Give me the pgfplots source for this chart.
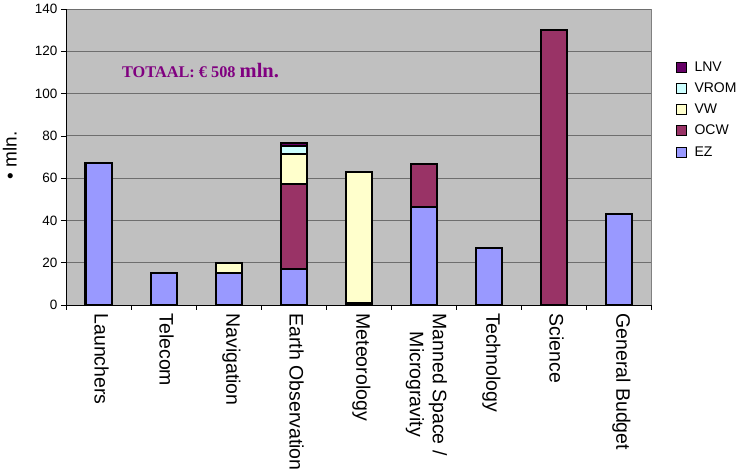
\documentclass[border=0pt]{standalone}
\usepackage{fontspec}
\setmainfont{Liberation Sans}
\newfontfamily\serifbf{Liberation Serif}
\usepackage{pgfplots}
\pgfplotsset{compat=1.18}

\definecolor{ez}{HTML}{9999FF}
\definecolor{ocw}{HTML}{993366}
\definecolor{vw}{HTML}{FFFFCC}
\definecolor{vrom}{HTML}{CCFFFF}
\definecolor{lnv}{HTML}{660066}
\definecolor{bggrey}{HTML}{C0C0C0}
\definecolor{gridgrey}{HTML}{6E6E6E}
\definecolor{totaal}{HTML}{800080}

\pgfplotsset{
  sq legend/.style={legend image code/.code={
    \draw[##1,line width=0.7pt] (0pt,-5pt) rectangle (10pt,5pt);
    \path (15pt,0pt);}},
}

\begin{document}
\begin{tikzpicture}
\begin{axis}[
  scale only axis,
  width=585pt, height=296pt,
  ybar stacked, bar width=26pt,
  xmin=-0.5, xmax=8.5, ymin=0, ymax=140,
  ytick={0,20,...,140},
  xtick={-0.5,0.5,...,8.5},
  x tick label as interval,
  xticklabels={Launchers,Telecom,Navigation,Earth Observation,Meteorology,{Manned Space /\\Microgravity},Technology,Science,General Budget},
  xticklabel style={xshift=3pt, rotate=-90, anchor=west, align=center,
    font=\fontsize{19.5}{23}\selectfont},
  yticklabel style={font=\fontsize{13.5}{15}\selectfont},
  /pgf/number format/assume math mode=true,
  axis x line*=bottom, axis y line*=left,
  axis line style={black, line width=0.8pt},
  tick align=outside, major tick length=5pt,
  tick style={black, line width=0.6pt},
  axis background/.style={fill=bggrey, draw=gray},
  ymajorgrids, grid style={gridgrey, line width=0.8pt},
  ylabel={• mln.},
  ylabel style={at={(axis description cs:-0.096,0.505)}, anchor=center,
    font=\fontsize{19}{21}\selectfont},
  legend style={draw=none, fill=none, at={(1.0427,0.66)}, anchor=west,
    font=\fontsize{14}{15}\selectfont, row sep=6pt, inner sep=0pt},
  legend cell align=left,
  reverse legend,
  every axis plot/.append style={draw=black, line width=2pt, sq legend},
]
% EZ
\addplot[fill=ez, draw=black] coordinates
  {(0,67) (1,15) (2,15) (3,17) (4,1) (5,46.5) (6,27) (7,0) (8,43)};
% OCW
\addplot[fill=ocw, draw=black] coordinates
  {(0,0) (1,0) (2,0) (3,40) (4,0) (5,20) (6,0) (7,130) (8,0)};
% VW
\addplot[fill=vw, draw=black] coordinates
  {(0,0) (1,0) (2,5) (3,14.5) (4,62) (5,0) (6,0) (7,0) (8,0)};
% VROM
\addplot[fill=vrom, draw=black] coordinates
  {(0,0) (1,0) (2,0) (3,3.5) (4,0) (5,0) (6,0) (7,0) (8,0)};
% LNV
\addplot[fill=lnv, draw=black] coordinates
  {(0,0) (1,0) (2,0) (3,1.5) (4,0) (5,0) (6,0) (7,0) (8,0)};
\legend{EZ,OCW,VW,VROM,LNV}
\node[anchor=base west, inner sep=0pt, text=totaal,
  font=\serifbf\bfseries\fontsize{16.3}{18}\selectfont]
  at (axis cs:0.36,107.8) {TOTAAL: € 508 {\fontsize{20.5}{22}\selectfont mln.}};
\end{axis}
\pgfresetboundingbox
\path[use as bounding box] ([xshift=-66pt,yshift=-170pt]current axis.south west)
  rectangle ([xshift=92pt,yshift=9pt]current axis.north east);
\end{tikzpicture}
\end{document}
